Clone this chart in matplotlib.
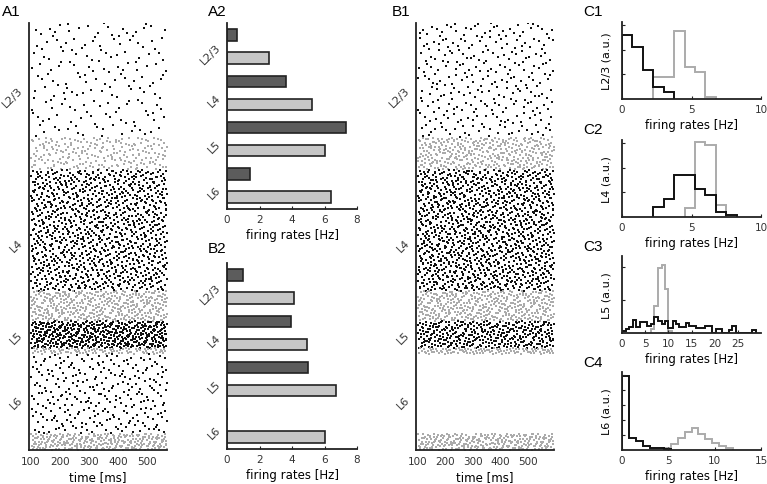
import numpy as np
import matplotlib
matplotlib.use('Agg')
import matplotlib.pyplot as plt

# populations, top to bottom
pops = ['L2/3e', 'L2/3i', 'L4e', 'L4i', 'L5e', 'L5i', 'L6e', 'L6i']
layers = ['L2/3', 'L4', 'L5', 'L6']
# neurons shown per population in the rasters
n_shown = [620, 175, 657, 164, 146, 32, 432, 88]

# mean firing rates [Hz] (A2 and B2)
rates_A = [0.62, 2.57, 3.63, 5.2, 7.3, 6.0, 1.4, 6.43]
rates_B = [0.98, 4.1, 3.96, 4.92, 5.0, 6.7, 0.0, 6.02]

# rate histograms (C1-C4): bin edges and heights, exc (black) / inh (gray)
c1_exc_edges = [0, 0.75, 1.5, 2.25, 3.0, 3.75]
c1_exc = [2.6, 2.12, 1.19, 0.47, 0.27]
c1_inh_edges = [2.25, 3.0, 3.75, 4.5, 5.25, 6.0, 6.75]
c1_inh = [0.9, 0.9, 2.74, 1.31, 1.08, 0.07]

c2_exc_edges = [2.25, 3.0, 3.75, 4.5, 5.25, 6.0, 6.75, 7.5, 8.25]
c2_exc = [0.40, 0.72, 1.69, 1.69, 1.15, 0.90, 0.2, 0.07]
c2_inh_edges = [4.5, 5.25, 6.0, 6.75, 7.5]
c2_inh = [0.36, 3.04, 2.9, 0.47]

c3_exc_edges = [0.0, 0.9, 1.6, 2.3, 3.1, 3.8, 5.5, 6.3, 7.0, 7.8, 8.6, 9.3, 10.0, 11.0,
                11.7, 12.4, 13.8, 14.5, 16.0, 18.0, 19.5, 20.2, 21.5, 23.0, 23.8,
                24.6, 25.5, 28.0, 29.0]
c3_exc = [0.05, 0.12, 0.19, 0.39, 0.19, 0.34, 0.22, 0.27, 0.47, 0.37, 0.27, 0.35,
          0.15, 0.37, 0.27, 0.18, 0.3, 0.2, 0.15, 0.2, 0.0, 0.12, 0.0, 0.1, 0.2,
          0.0, 0.0, 0.1]
c3_inh_edges = [6.2, 7.0, 7.8, 8.6, 9.3, 10.0, 10.8]
c3_inh = [0.12, 0.82, 1.97, 2.04, 1.32, 0.07]

c4_exc_edges = [0, 0.75, 1.5, 2.25, 3.0, 3.75, 4.5, 5.25]
c4_exc = [4.93, 0.8, 0.62, 0.24, 0.13, 0.11, 0.07]
c4_inh_edges = [4.5, 5.25, 6.0, 6.75, 7.5, 8.25, 9.0, 9.75, 10.5, 11.25, 12.0]
c4_inh = [0.11, 0.4, 0.78, 1.18, 1.44, 1.07, 0.73, 0.47, 0.24, 0.11]

DARK = '#5c5c5c'
LIGHT = '#c6c6c6'
EDGE = '#222222'
GRAY = '#ababab'

W, H = 767, 485
fig = plt.figure(figsize=(W / 100, H / 100), dpi=100)


def add_ax(l, t, r, b):
    return fig.add_axes([l / W, 1 - b / H, (r - l) / W, (b - t) / H])


def style(ax):
    for s in ['top', 'right']:
        ax.spines[s].set_visible(False)
    for s in ['left', 'bottom']:
        ax.spines[s].set_linewidth(1.3)
        ax.spines[s].set_color(EDGE)
    ax.tick_params(direction='in', length=2.5, width=0.8, labelsize=7.5, colors=EDGE,
                   labelcolor='#333333')


def halton(k, base):
    # deterministic low-discrepancy sequence, used to spread the spike dots
    f = np.ones(len(k))
    r = np.zeros(len(k))
    i = k.copy()
    while np.any(i > 0):
        f = f / base
        r += f * (i % base)
        i = i // base
    return r


starts = np.concatenate([[0], np.cumsum(n_shown)])
total = starts[-1]


def raster(ax, rates, t0, t1):
    for i, (n, r) in enumerate(zip(n_shown, rates)):
        k = np.arange(int(round(r * (t1 - t0) / 1000. * n))) + 1 + 977 * i
        t = t0 + (t1 - t0) * halton(k, 2)
        y = starts[i] + np.floor(n * halton(k, 3))
        ax.scatter(t, y, s=1.1, marker='s', linewidths=0,
                   c='#111111' if i % 2 == 0 else GRAY)
    ax.set_ylim(total, 0)
    ax.set_xlim(t0 - 7, t1)
    style(ax)
    ax.set_xticks([100, 200, 300, 400, 500])
    centers = [(starts[2 * j] + starts[2 * j + 2]) / 2 for j in range(4)]
    ax.set_yticks(centers)
    ax.set_yticklabels(layers, rotation=45, fontsize=8, va='center')
    ax.tick_params(axis='y', length=0, pad=3)
    ax.tick_params(axis='x', length=0, pad=4)
    ax.set_xlabel('time [ms]', fontsize=8.5, labelpad=3)


def bars(ax, rates):
    ypos = np.arange(8)
    cols = [DARK if i % 2 == 0 else LIGHT for i in range(8)]
    ax.barh(ypos, rates, height=0.5, color=cols, edgecolor=EDGE, linewidth=1.2)
    ax.set_ylim(7.52, -0.52)
    ax.set_xlim(0, 8)
    style(ax)
    ax.set_xticks([0, 2, 4, 6, 8])
    ax.set_yticks([0.8, 2.8, 4.8, 6.8])
    ax.set_yticklabels(layers, rotation=45, fontsize=8, va='center')
    ax.tick_params(axis='y', length=0, pad=3)
    ax.set_xlabel('firing rates [Hz]', fontsize=8.5, labelpad=3)


def hist(ax, ee, ev, ie, iv, xmax, xt, top, name):
    ax.stairs(iv, ie, color=GRAY, linewidth=1.4, baseline=0)
    ax.stairs(ev, ee, color='#111111', linewidth=1.4, baseline=0)
    ax.set_xlim(0, xmax)
    ax.set_ylim(0, top)
    style(ax)
    ax.set_xticks(xt)
    ax.set_yticks(np.arange(1, int(top) + 1))
    ax.set_yticklabels([])
    ax.set_ylabel(name + ' (a.u.)', fontsize=8, labelpad=4)
    ax.set_xlabel('firing rates [Hz]', fontsize=8.5, labelpad=3)


axA1 = add_ax(29, 24, 167, 451)
raster(axA1, rates_A, 100, 570)
axB1 = add_ax(416, 24, 554, 451)
raster(axB1, rates_B, 100, 595)

axA2 = add_ax(227, 24, 357, 210)
bars(axA2, rates_A)
axB2 = add_ax(227, 264, 357, 450)
bars(axB2, rates_B)

axC1 = add_ax(622, 23, 761, 100)
hist(axC1, c1_exc_edges, c1_exc, c1_inh_edges, c1_inh, 10, [0, 5, 10], 3.12, 'L2/3')
axC2 = add_ax(622, 141, 761, 218)
hist(axC2, c2_exc_edges, c2_exc, c2_inh_edges, c2_inh, 10, [0, 5, 10], 3.12, 'L4')
axC3 = add_ax(622, 257, 761, 334)
hist(axC3, c3_exc_edges, c3_exc, c3_inh_edges, c3_inh, 30, [0, 5, 10, 15, 20, 25], 2.32, 'L5')
axC4 = add_ax(622, 373, 761, 451)
hist(axC4, c4_exc_edges, c4_exc, c4_inh_edges, c4_inh, 15, [0, 5, 10, 15], 5.2, 'L6')

labels = {'A1': (2, 16), 'A2': (208, 16), 'B1': (392, 16), 'B2': (208, 253),
          'C1': (583, 16), 'C2': (583, 134), 'C3': (583, 251), 'C4': (583, 367)}
for txt, (x, y) in labels.items():
    fig.text(x / W, 1 - y / H, txt, fontsize=11, family='Liberation Sans', va='baseline')

fig.savefig('out.png', dpi=100)
